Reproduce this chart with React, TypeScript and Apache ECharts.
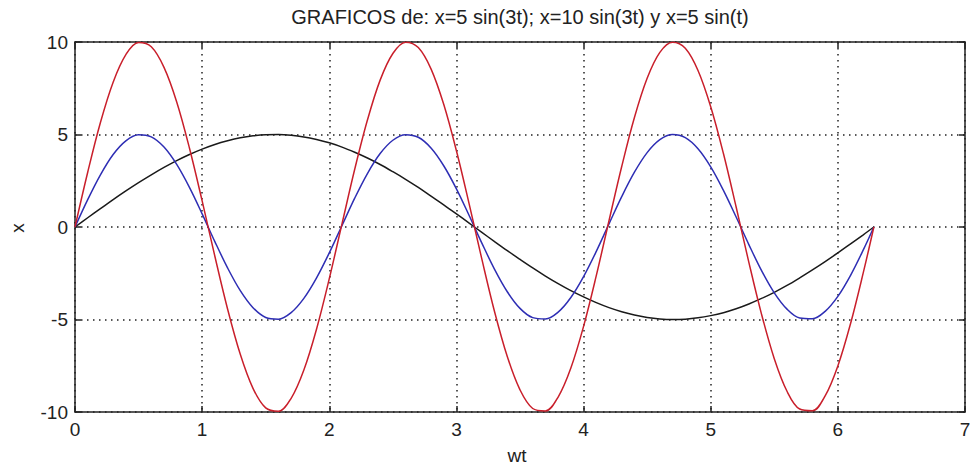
import React, { useEffect, useRef } from "react";
import * as echarts from "echarts";

const TITLE = "GRAFICOS de: x=5 sin(3t); x=10 sin(3t) y x=5 sin(t)";
const X_NAME = "wt";
const Y_NAME = "x";

const T = [
  0, 0.1, 0.2, 0.3, 0.4, 0.5, 0.6, 0.7, 0.8, 0.9,
  1.0, 1.1, 1.2, 1.3, 1.4, 1.5, 1.6, 1.7, 1.8, 1.9,
  2.0, 2.1, 2.2, 2.3, 2.4, 2.5, 2.6, 2.7, 2.8, 2.9,
  3.0, 3.1, 3.2, 3.3, 3.4, 3.5, 3.6, 3.7, 3.8, 3.9,
  4.0, 4.1, 4.2, 4.3, 4.4, 4.5, 4.6, 4.7, 4.8, 4.9,
  5.0, 5.1, 5.2, 5.3, 5.4, 5.5, 5.6, 5.7, 5.8, 5.9,
  6.0, 6.1, 6.2, 6.2832,
];

const RED = [
  0, 2.96, 5.65, 7.83, 9.32, 9.97, 9.74, 8.63, 6.76, 4.27,
  1.41, -1.58, -4.43, -6.88, -8.72, -9.78, -9.96, -9.26, -7.73, -5.51,
  -2.79, 0.17, 3.12, 5.78, 7.94, 9.38, 9.99, 9.70, 8.55, 6.63,
  4.12, 1.25, -1.74, -4.58, -7.0, -8.8, -9.81, -9.94, -9.19, -7.62,
  -5.37, -2.63, 0.34, 3.27, 5.92, 8.04, 9.44, 9.99, 9.66, 8.46,
  6.5, 3.97, 1.08, -1.91, -4.72, -7.12, -8.88, -9.84, -9.93, -9.13,
  -7.51, -5.22, -2.47, 0,
];

const BLUE = [
  0, 1.48, 2.82, 3.92, 4.66, 4.99, 4.87, 4.32, 3.38, 2.14,
  0.71, -0.79, -2.21, -3.44, -4.36, -4.89, -4.98, -4.63, -3.86, -2.75,
  -1.4, 0.08, 1.56, 2.89, 3.97, 4.69, 4.99, 4.85, 4.27, 3.31,
  2.06, 0.62, -0.87, -2.29, -3.5, -4.4, -4.9, -4.97, -4.6, -3.81,
  -2.68, -1.32, 0.17, 1.64, 2.96, 4.02, 4.72, 5.0, 4.83, 4.23,
  3.25, 1.98, 0.54, -0.95, -2.36, -3.56, -4.44, -4.92, -4.96, -4.56,
  -3.75, -2.61, -1.24, 0,
];

const BLACK = [
  0, 0.5, 0.99, 1.48, 1.95, 2.4, 2.82, 3.22, 3.59, 3.92,
  4.21, 4.46, 4.66, 4.82, 4.93, 4.99, 5.0, 4.96, 4.87, 4.73,
  4.55, 4.32, 4.04, 3.73, 3.38, 2.99, 2.58, 2.14, 1.67, 1.2,
  0.71, 0.21, -0.29, -0.79, -1.28, -1.75, -2.21, -2.65, -3.06, -3.44,
  -3.78, -4.09, -4.36, -4.58, -4.76, -4.89, -4.97, -5.0, -4.98, -4.91,
  -4.79, -4.63, -4.42, -4.16, -3.86, -3.53, -3.16, -2.75, -2.32, -1.87,
  -1.4, -0.91, -0.42, 0,
];

const FONT = "Liberation Sans, Arial, sans-serif";
const TEXT_COLOR = "#222";

export default function App() {
  const ref = useRef<HTMLDivElement>(null);
  useEffect(() => {
    if (!ref.current) return;
    const chart = echarts.init(ref.current, undefined, { renderer: "svg" });
    const pair = (vals: number[]) => T.map((t, i) => [t, vals[i]]);
    const gridLine = { show: true, lineStyle: { color: "#222", width: 1.5, type: [1.5, 4.5] as any } };
    const axisLine = { show: true, onZero: false, lineStyle: { color: "#222", width: 1.5 } };
    const tick = { show: true, inside: true, length: 6, lineStyle: { color: "#222", width: 1.5 } };
    const label = { color: TEXT_COLOR, fontFamily: FONT, fontSize: 19 };
    chart.setOption({
      animation: false,
      backgroundColor: "#fff",
      grid: { left: 75, right: 10, top: 42, bottom: 56, containLabel: false },
      graphic: [
        {
          type: "text",
          x: 520,
          y: 7,
          style: { text: TITLE, fill: TEXT_COLOR, font: `20px ${FONT}`, textAlign: "center", textVerticalAlign: "top" },
        },
        {
          type: "text",
          x: 517,
          y: 446,
          style: { text: X_NAME, fill: TEXT_COLOR, font: `19px ${FONT}`, textAlign: "center", textVerticalAlign: "top" },
        },
        {
          type: "text",
          x: 17,
          y: 228,
          rotation: Math.PI / 2,
          style: { text: Y_NAME, fill: TEXT_COLOR, font: `19px ${FONT}`, textAlign: "center", textVerticalAlign: "middle" },
        },
      ],
      xAxis: [
        {
          type: "value",
          min: 0,
          max: 7,
          interval: 1,
          position: "bottom",
          axisLine,
          axisTick: tick,
          axisLabel: { ...label, margin: 8 },
          splitLine: gridLine,
        },
        {
          type: "value",
          min: 0,
          max: 7,
          interval: 1,
          position: "top",
          axisLine,
          axisTick: tick,
          axisLabel: { show: false },
          splitLine: { show: false },
        },
      ],
      yAxis: [
        {
          type: "value",
          min: -10,
          max: 10,
          interval: 5,
          position: "left",
          axisLine,
          axisTick: tick,
          axisLabel: { ...label, margin: 7 },
          splitLine: gridLine,
        },
        {
          type: "value",
          min: -10,
          max: 10,
          interval: 5,
          position: "right",
          axisLine,
          axisTick: tick,
          axisLabel: { show: false },
          splitLine: { show: false },
        },
      ],
      series: [
        {
          name: "x=5 sin(t)",
          type: "line",
          data: pair(BLACK),
          showSymbol: false,
          smooth: 0.35,
          lineStyle: { color: "#1a1a1a", width: 1.5 },
          z: 3,
        },
        {
          name: "x=5 sin(3t)",
          type: "line",
          data: pair(BLUE),
          showSymbol: false,
          smooth: 0.35,
          lineStyle: { color: "#2e2eb4", width: 1.5 },
          z: 4,
        },
        {
          name: "x=10 sin(3t)",
          type: "line",
          data: pair(RED),
          showSymbol: false,
          smooth: 0.35,
          lineStyle: { color: "#c91f2b", width: 1.5 },
          z: 5,
        },
      ],
    });
    return () => chart.dispose();
  }, []);
  return <div ref={ref} style={{ width: 975, height: 468, position: "absolute", left: 0, top: 0 }} />;
}
